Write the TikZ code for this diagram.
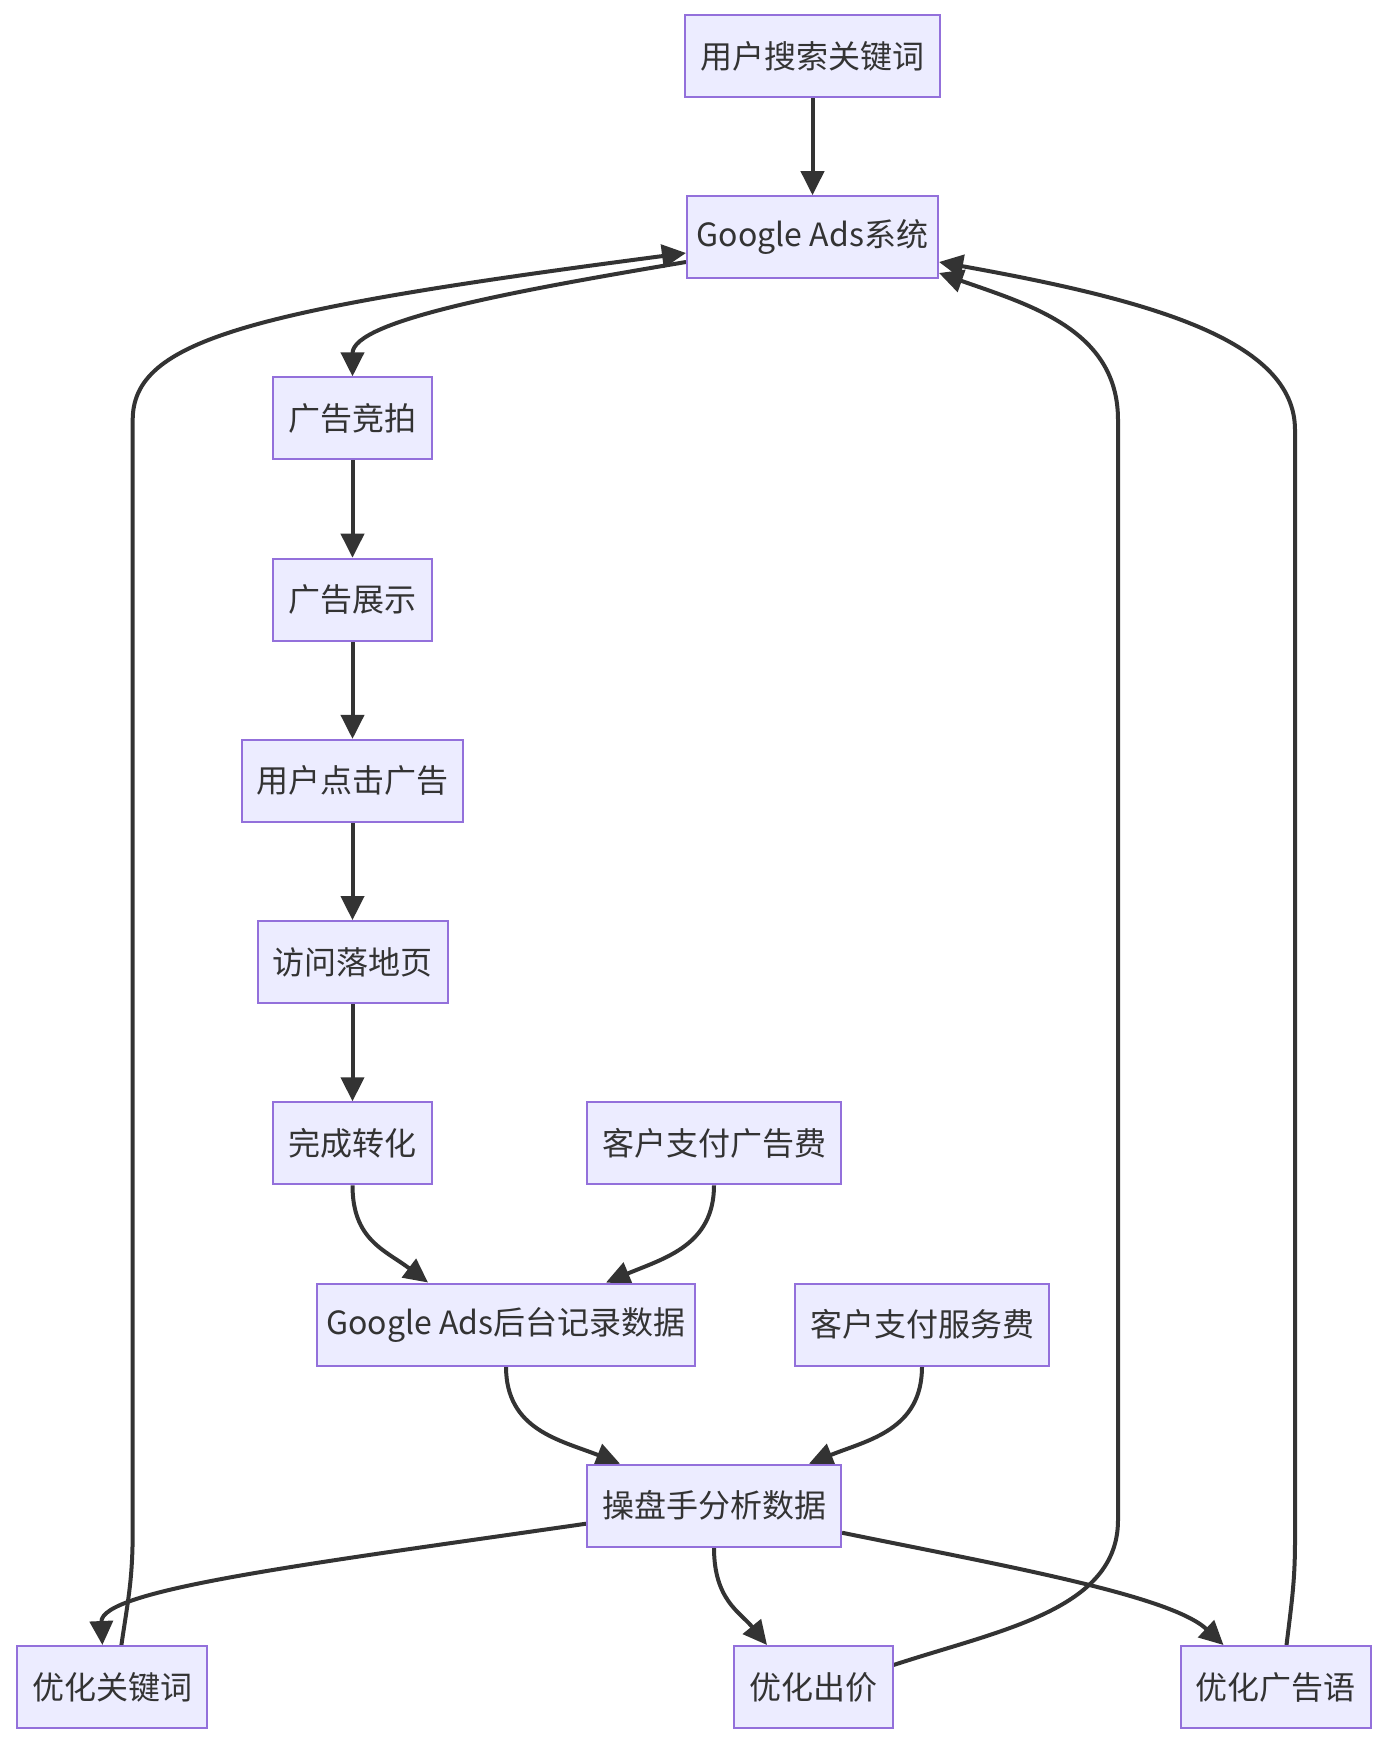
\documentclass[tikz,border=0pt]{standalone}
\usepackage{fontspec}
\setmainfont{Noto Sans CJK SC}
\usetikzlibrary{arrows.meta,backgrounds}
\definecolor{nodefill}{HTML}{ECECFF}
\definecolor{nodeline}{HTML}{9370DB}
\definecolor{edgec}{HTML}{333333}
\begin{document}
\begin{tikzpicture}[x=1pt,y=-1pt,
  box/.style={draw=nodeline, line width=2pt, fill=nodefill, minimum height=82pt,
    inner xsep=0pt, inner ysep=0pt, text=edgec, font=\fontsize{32}{38}\selectfont},
  conn/.style={draw=edgec, line width=4pt, -{Triangle[length=24pt,width=23pt]}}]
\useasboundingbox (0,0) rectangle (1388,1744);
\node[box, minimum width=255pt] (search) at (812.5,56) {用户搜索关键词};
\node[box, minimum width=251pt] (ga) at (812.5,237.2) {Google Ads系统};
\node[box, minimum width=159pt] (bid) at (352.5,418.4) {广告竞拍};
\node[box, minimum width=159pt] (show) at (352.5,599.7) {广告展示};
\node[box, minimum width=221pt] (click) at (352.5,780.9) {用户点击广告};
\node[box, minimum width=190pt] (visit) at (352.5,962.1) {访问落地页};
\node[box, minimum width=159pt] (conv) at (352.5,1143.3) {完成转化};
\node[box, minimum width=254pt] (payad) at (714,1143.3) {客户支付广告费};
\node[box, minimum width=378pt] (record) at (506,1324.5) {Google Ads后台记录数据};
\node[box, minimum width=254pt] (paysvc) at (922,1324.5) {客户支付服务费};
\node[box, minimum width=254pt] (analyze) at (714,1505.7) {操盘手分析数据};
\node[box, minimum width=190pt] (kw) at (112.4,1687) {优化关键词};
\node[box, minimum width=159pt] (price) at (813,1687) {优化出价};
\node[box, minimum width=190pt] (copy) at (1275.5,1687) {优化广告语};
\begin{scope}[on background layer]
\fill[white] (0,0) rectangle (1388,1744);
\draw[conn] (search.south) -- (ga.north);
\draw[conn] ([yshift=-24.8pt]ga.west) .. controls (520,290) and (352.5,320) .. (bid.north);
\draw[conn] (bid.south) -- (show.north);
\draw[conn] (show.south) -- (click.north);
\draw[conn] (click.south) -- (visit.north);
\draw[conn] (visit.south) -- (conv.north);
\draw[conn] (conv.south) .. controls (352.5,1240) and (385,1250) .. ([xshift=-78pt]record.north);
\draw[conn] (payad.south) .. controls (714,1245) and (665,1258) .. ([xshift=100pt]record.north);
\draw[conn] (record.south) .. controls (506,1430) and (560,1440) .. ([xshift=-94pt]analyze.north);
\draw[conn] (paysvc.south) .. controls (922,1430) and (868,1440) .. ([xshift=95pt]analyze.north);
\draw[conn] ([yshift=-18pt]analyze.west) .. controls (300,1565) and (100,1590) .. ([xshift=-10pt]kw.north);
\draw[conn] (analyze.south) .. controls (714,1600) and (740,1612) .. ([xshift=-46pt]price.north);
\draw[conn] ([yshift=-27pt]analyze.east) .. controls (1000,1565) and (1170,1595) .. ([xshift=-52pt]copy.north);
\draw[conn] ([xshift=9pt]kw.north) .. controls (128,1600) and (132.7,1580) .. (132.7,1530) -- (132.7,420) .. controls (132.7,340) and (250,310) .. ([yshift=-15.8pt]ga.west);
\draw[conn] ([yshift=22pt]price.east) .. controls (1000,1630) and (1118,1610) .. (1118,1520) -- (1118,420) .. controls (1118,330) and (1030,305) .. ([yshift=-35.8pt]ga.east);
\draw[conn] ([xshift=11pt]copy.north) .. controls (1292,1600) and (1295,1580) .. (1295,1540) -- (1295,430) .. controls (1295,340) and (1150,300) .. ([yshift=-24.8pt]ga.east);
\end{scope}
\end{tikzpicture}
\end{document}
